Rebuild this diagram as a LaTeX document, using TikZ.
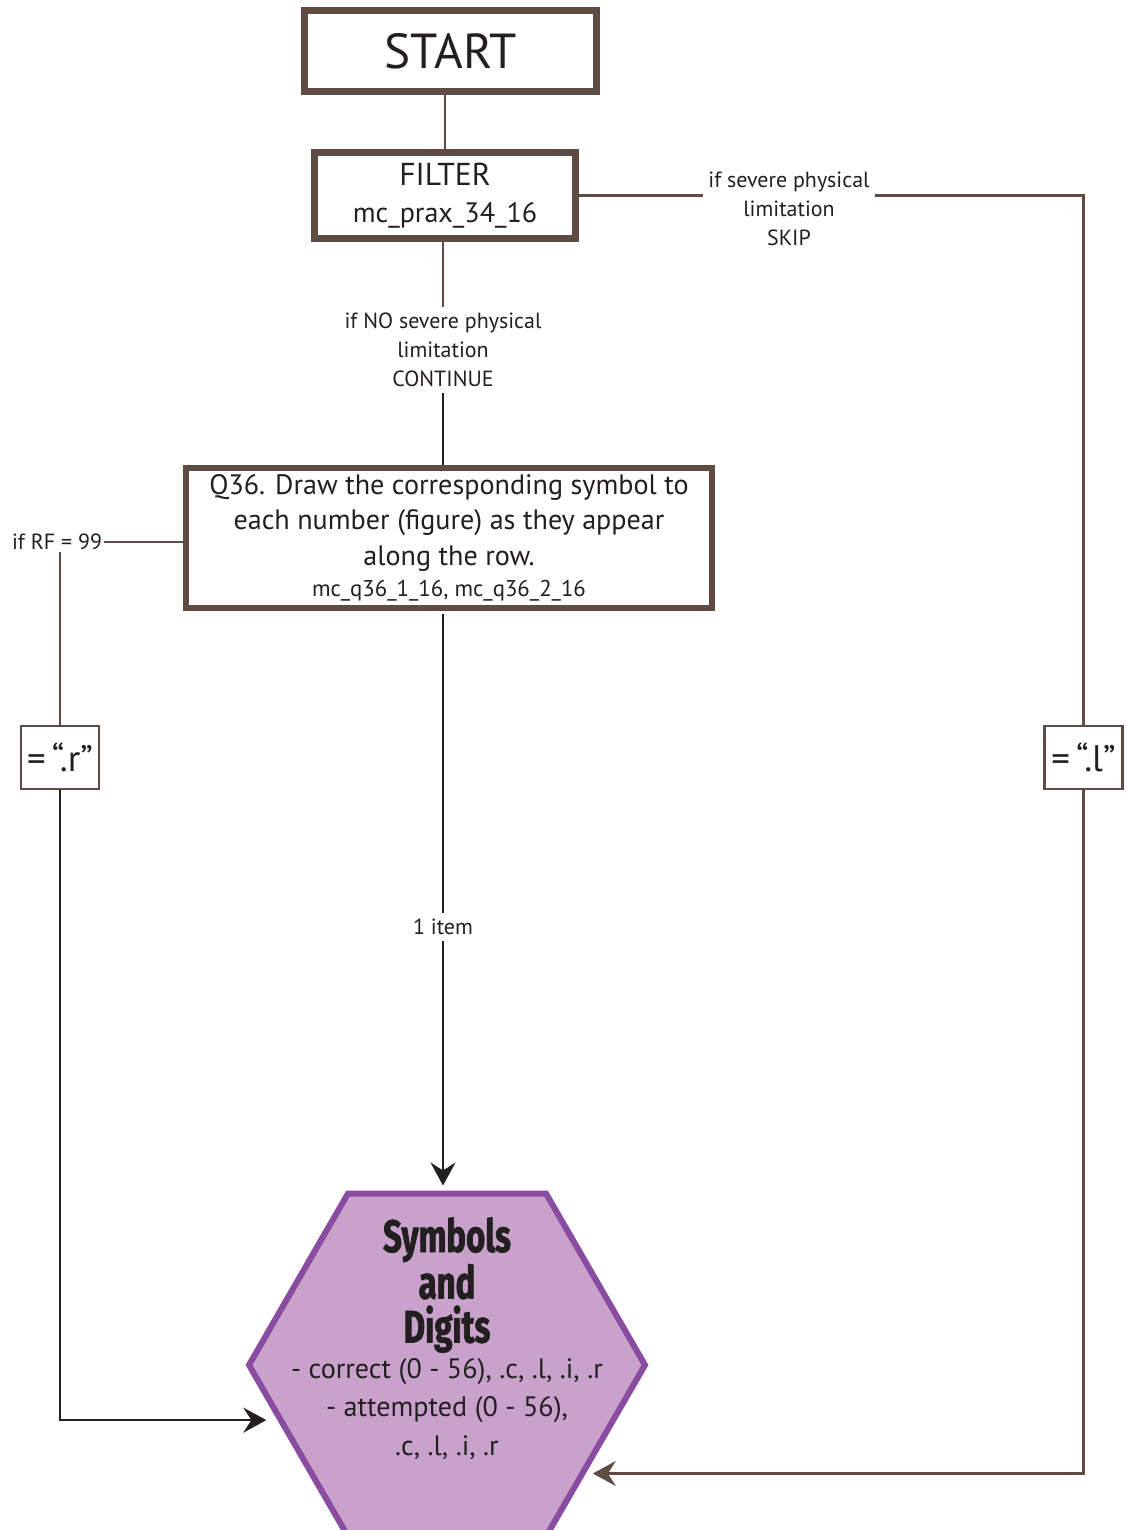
\documentclass[tikz,border=0pt]{standalone}
\usepackage{fontspec}
\setmainfont{PT Sans}
\newfontfamily\hexfont[FakeStretch=0.72,FakeBold=1.5]{Fira Sans}
\usetikzlibrary{shapes.geometric,arrows.meta}
\definecolor{boxbrown}{RGB}{94,75,67}
\definecolor{ink}{RGB}{35,31,32}
\definecolor{hexline}{RGB}{137,76,160}
\definecolor{hexfill}{RGB}{201,162,204}

\begin{document}
\begin{tikzpicture}[x=0.2mm, y=-0.2mm, text=ink,
  bigbox/.style={draw=boxbrown, line width=1.3mm, fill=white, inner sep=0pt, align=center},
  tag/.style={draw=boxbrown, line width=0.5mm, minimum width=15.6mm, minimum height=12.6mm, inner sep=0pt, font=\fontsize{21}{24}\selectfont},
  note/.style={align=center, inner sep=3pt, font=\fontsize{12.5}{16.5}\selectfont},
  link/.style={boxbrown, line width=0.5mm},
  blink/.style={ink, line width=0.5mm},
  tip/.style={-{Stealth[length=4.6mm, width=5mm, inset=1.6mm]}}]
\useasboundingbox (0,0) rectangle (1126,1530);

% boxes
\node[bigbox, minimum width=58.4mm, minimum height=16.2mm, font=\fontsize{28}{32}\selectfont] (start) at (450.5,51) {START};
\node[bigbox, minimum width=52.2mm, minimum height=17.2mm, font=\fontsize{18}{21}\selectfont] (filter) at (445,195.5)
  {FILTER\\{\fontsize{16}{21}\selectfont mc\_prax\_34\_16}};
\node[bigbox, line width=1.2mm, minimum width=105.2mm, minimum height=28mm, font=\fontsize{16}{20}\selectfont] (q36) at (449,538)
  {Q36. Draw the corresponding symbol to\\each number (figure) as they appear\\along the row.\\[-2pt]{\fontsize{13}{15}\selectfont mc\_q36\_1\_16, mc\_q36\_2\_16}};
\node[regular polygon, regular polygon sides=6, minimum size=79.2mm, draw=hexline, fill=hexfill, line width=1.2mm, inner sep=0pt] (hex) at (447,1365) {};
\node[align=center, inner sep=0pt, font=\hexfont\bfseries\fontsize{26}{25}\selectfont] (hextitle) at (447,1285) {Symbols\\and\\Digits};
\node[align=center, inner sep=0pt, font=\fontsize{16}{22}\selectfont] (hexbody) at (447,1409)
  {- correct (0 - 56), .c, .l, .i, .r\\- attempted (0 - 56),\\.c, .l, .i, .r};
\node[tag] (boxR) at (60,757.5) {=\,“.r”};
\node[tag] (boxL) at (1083.5,757.5) {=\,“.l”};

% labels
\node[note] (lblskip) at (789,209) {if severe physical\\limitation\\SKIP};
\node[note] (lblcont) at (443,350) {if NO severe physical\\limitation\\CONTINUE};
\node[note, inner sep=1pt] (lbl99) at (57,542) {if RF = 99};
\node[note] (lblitem) at (443,927) {1 item};

% connectors
\draw[link] (filter.north) -- (filter.north |- start.south);
\draw[link] (filter.south -| lblcont) -- (lblcont.north);
\draw[blink] (lblcont.south) -- (lblcont.south |- q36.north);
\draw[link] (filter.east) -- (filter.east -| lblskip.west);
\draw[link] (filter.east -| lblskip.east) -| (boxL.north);
\draw[link, tip, shorten >=1.4mm] (boxL.south) |- (hex.-38);
\draw[link] (q36.west |- lbl99.east) -- (lbl99.east);
\draw[link] (lbl99.south -| boxR.north) -- (boxR.north);
\draw[blink, tip, shorten >=2.2mm] (boxR.south) |- (hex.198);
\draw[blink, shorten <=0.6mm] (q36.south -| lblitem) -- (lblitem.north);
\draw[blink, tip, shorten >=1mm] (lblitem.south) -- (lblitem.south |- hex.north);
\end{tikzpicture}
\end{document}
